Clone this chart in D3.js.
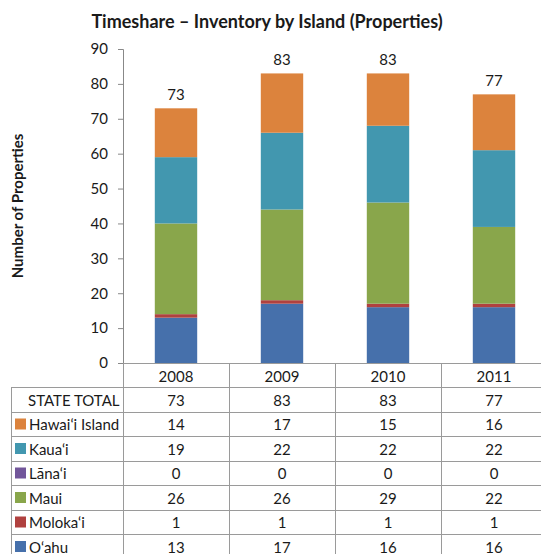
<!DOCTYPE html>
<html>
<head>
<meta charset="utf-8">
<script src="https://cdn.jsdelivr.net/npm/d3@7"></script>
<style>
  body { margin: 0; background: #fff; }
  text { font-family: Lato, "Open Sans", sans-serif; fill: #1a1a1a; }
</style>
</head>
<body>
<svg id="chart" width="541" height="554"></svg>
<script>
// data
const years = ["2008", "2009", "2010", "2011"];
const islands = ["O\u2018ahu", "Moloka\u2018i", "Maui", "L\u0101na\u2018i", "Kaua\u2018i", "Hawai\u2018i Island"];
const islandColors = ["#4670ab", "#b0413f", "#89a64b", "#72569a", "#4297af", "#dc833d"];
const oahu = [13, 17, 16, 16];
const molokai = [1, 1, 1, 1];
const maui = [26, 26, 29, 22];
const lanai = [0, 0, 0, 0];
const kauai = [19, 22, 22, 22];
const hawaii = [14, 17, 15, 16];
const yTicks = [0, 10, 20, 30, 40, 50, 60, 70, 80, 90];

const series = [oahu, molokai, maui, lanai, kauai, hawaii];
const totals = years.map((y, i) => d3.sum(series, s => s[i]));

// table rows top to bottom
const tableRows = [
  { name: "STATE TOTAL", vals: totals, color: null },
  { name: islands[5], vals: hawaii, color: islandColors[5] },
  { name: islands[4], vals: kauai, color: islandColors[4] },
  { name: islands[3], vals: lanai, color: islandColors[3] },
  { name: islands[2], vals: maui, color: islandColors[2] },
  { name: islands[1], vals: molokai, color: islandColors[1] },
  { name: islands[0], vals: oahu, color: islandColors[0] }
];

const svg = d3.select("#chart");
const plotLeft = 123, plotRight = 547, plotTop = 49, plotBottom = 363;
const tableLeft = 11, headH = 24, rowH = 24.5;
const gridColor = "#9a9a9a";
const fs = "15px";

const x = d3.scaleBand().domain(years).range([plotLeft, plotRight]).paddingInner(0.6).paddingOuter(0.3);
const y = d3.scaleLinear().domain([0, 90]).range([plotBottom, plotTop]);

// title
svg.append("text")
  .attr("x", 267).attr("y", 28)
  .attr("text-anchor", "middle")
  .style("font-size", "18px").style("font-weight", "700")
  .text("Timeshare \u2013 Inventory by Island (Properties)");

// y axis title
svg.append("text")
  .attr("transform", `translate(23,${(plotTop + plotBottom) / 2 + 0}) rotate(-90)`)
  .attr("text-anchor", "middle")
  .style("font-size", "15px").style("font-weight", "700")
  .text("Number of Properties");

// stacked bars
const rows = years.map((yr, i) => {
  const r = { year: yr };
  islands.forEach((isl, k) => r[isl] = series[k][i]);
  return r;
});
const stack = d3.stack().keys(islands)(rows);
svg.append("g").selectAll("g")
  .data(stack).join("g")
  .attr("fill", (d, k) => islandColors[k])
  .selectAll("rect")
  .data(d => d).join("rect")
  .attr("x", d => x(d.data.year))
  .attr("width", x.bandwidth())
  .attr("y", d => y(d[1]))
  .attr("height", d => y(d[0]) - y(d[1]));

// totals above bars
svg.append("g").selectAll("text")
  .data(years).join("text")
  .attr("x", d => x(d) + x.bandwidth() / 2)
  .attr("y", (d, i) => y(totals[i]) - 8)
  .attr("text-anchor", "middle")
  .style("font-size", fs)
  .text((d, i) => totals[i]);

// y axis
const yAxis = svg.append("g")
  .attr("transform", `translate(${plotLeft},0)`)
  .call(d3.axisLeft(y).tickValues(yTicks).tickSize(5).tickPadding(10));
yAxis.select(".domain").attr("stroke", "#888");
yAxis.selectAll(".tick line").attr("stroke", "#888");
yAxis.selectAll(".tick text")
  .style("font-family", "Lato, 'Open Sans', sans-serif")
  .style("font-size", fs).attr("fill", "#1a1a1a");

// table grid
const grid = svg.append("g").attr("stroke", gridColor).attr("stroke-width", 1).attr("fill", "none");
const tableBottom = plotBottom + headH + rowH * tableRows.length;
const colEdges = [plotLeft].concat(years.map(yr => x(yr) - x.step() * x.paddingOuter() + x.step()));
// x axis line / header top
grid.append("line").attr("x1", plotLeft).attr("x2", plotRight).attr("y1", plotBottom + 0.5).attr("y2", plotBottom + 0.5);
// row lines
d3.range(tableRows.length + 1).forEach(i => {
  const yy = Math.round(plotBottom + headH + rowH * i) + 0.5;
  grid.append("line").attr("x1", tableLeft).attr("x2", plotRight).attr("y1", yy).attr("y2", yy);
});
// vertical lines
grid.append("line").attr("x1", tableLeft + 0.5).attr("x2", tableLeft + 0.5)
  .attr("y1", plotBottom + headH).attr("y2", tableBottom);
colEdges.forEach(cx => {
  const xx = Math.round(cx) + 0.5;
  grid.append("line").attr("x1", xx).attr("x2", xx).attr("y1", plotBottom).attr("y2", tableBottom);
});

// year headers
svg.append("g").selectAll("text")
  .data(years).join("text")
  .attr("x", d => x(d) + x.bandwidth() / 2)
  .attr("y", plotBottom + headH - 5)
  .attr("text-anchor", "middle")
  .style("font-size", fs)
  .text(d => d);

// table body
const body = svg.append("g");
tableRows.forEach((r, i) => {
  const rowTop = plotBottom + headH + rowH * i;
  if (r.color) {
    body.append("rect")
      .attr("x", 15).attr("y", rowTop + 7)
      .attr("width", 11).attr("height", 11)
      .attr("fill", r.color);
  }
  body.append("text")
    .attr("x", r.color ? 29 : 28)
    .attr("y", rowTop + rowH - 6)
    .style("font-size", fs)
    .text(r.name);
  r.vals.forEach((v, j) => {
    body.append("text")
      .attr("x", x(years[j]) + x.bandwidth() / 2)
      .attr("y", rowTop + rowH - 6)
      .attr("text-anchor", "middle")
      .style("font-size", fs)
      .text(v);
  });
});
</script>
</body>
</html>
